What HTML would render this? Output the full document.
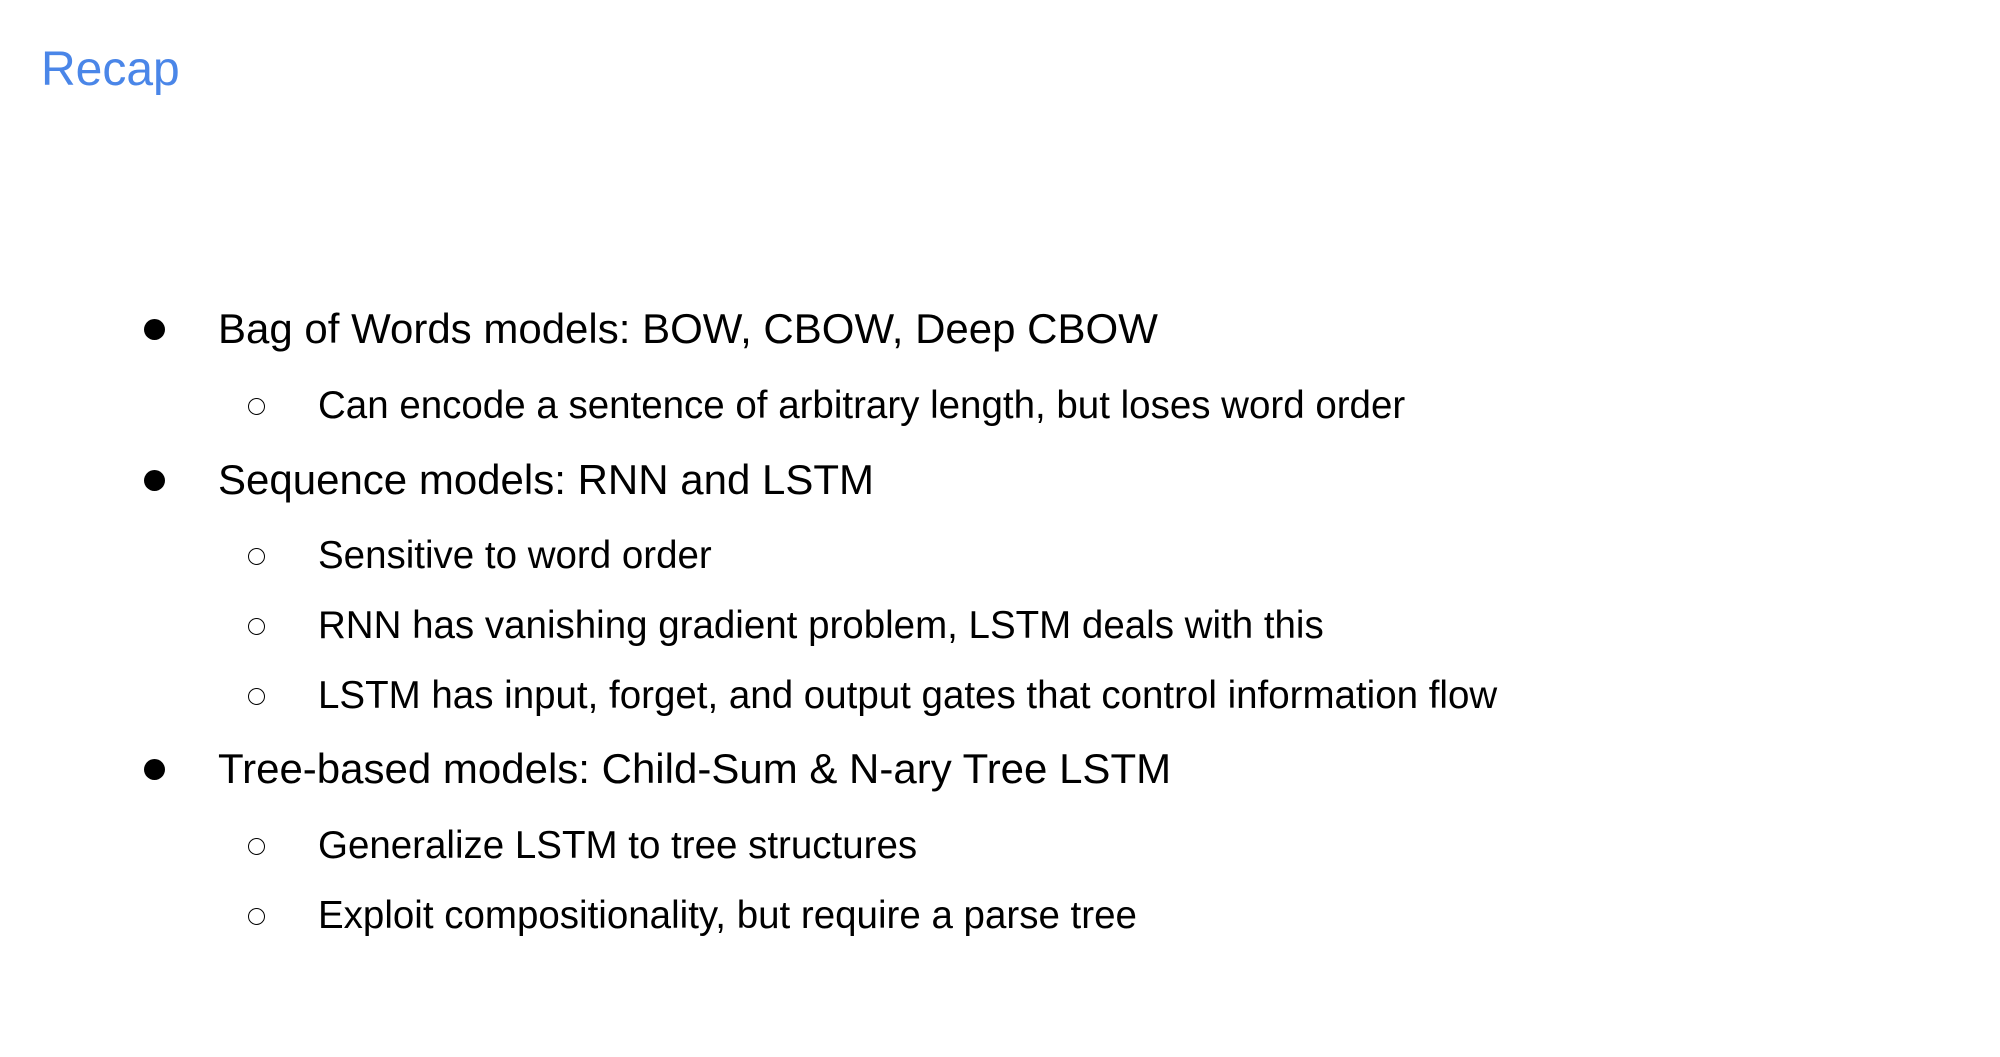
<!DOCTYPE html>
<html><head><meta charset="utf-8"><style>
html,body{margin:0;padding:0;width:2000px;height:1057px;background:#fff;overflow:hidden;font-family:"Liberation Sans",sans-serif;color:#000}
.t{position:absolute;white-space:nowrap;line-height:60px;height:60px}
.l1{font-size:42px;left:218px}
.l2{font-size:38.5px;left:318px}
.b1{position:absolute;left:144px;width:21px;height:21px;border-radius:50%;background:#000}
.b2{position:absolute;left:248px;width:17px;height:17px;border-radius:50%;border:1.6px solid #000;box-sizing:border-box}
</style></head><body>
<div class="t" style="left:41px;top:40px;font-size:48px;color:#4a86e8">Recap</div>

<div class="b1" style="top:319px"></div><div class="t l1" style="top:299px">Bag of Words models: BOW, CBOW, Deep CBOW</div>
<div class="b2" style="top:398px"></div><div class="t l2" style="top:376px">Can encode a sentence of arbitrary length, but loses word order</div>
<div class="b1" style="top:470px"></div><div class="t l1" style="top:450px">Sequence models: RNN and LSTM</div>
<div class="b2" style="top:548px"></div><div class="t l2" style="top:526px">Sensitive to word order</div>
<div class="b2" style="top:618px"></div><div class="t l2" style="top:596px">RNN has vanishing gradient problem, LSTM deals with this</div>
<div class="b2" style="top:688px"></div><div class="t l2" style="top:666px">LSTM has input, forget, and output gates that control information flow</div>
<div class="b1" style="top:759px"></div><div class="t l1" style="top:739px">Tree-based models: Child-Sum &amp; N-ary Tree LSTM</div>
<div class="b2" style="top:838px"></div><div class="t l2" style="top:816px">Generalize LSTM to tree structures</div>
<div class="b2" style="top:908px"></div><div class="t l2" style="top:886px">Exploit compositionality, but require a parse tree</div>
</body></html>
